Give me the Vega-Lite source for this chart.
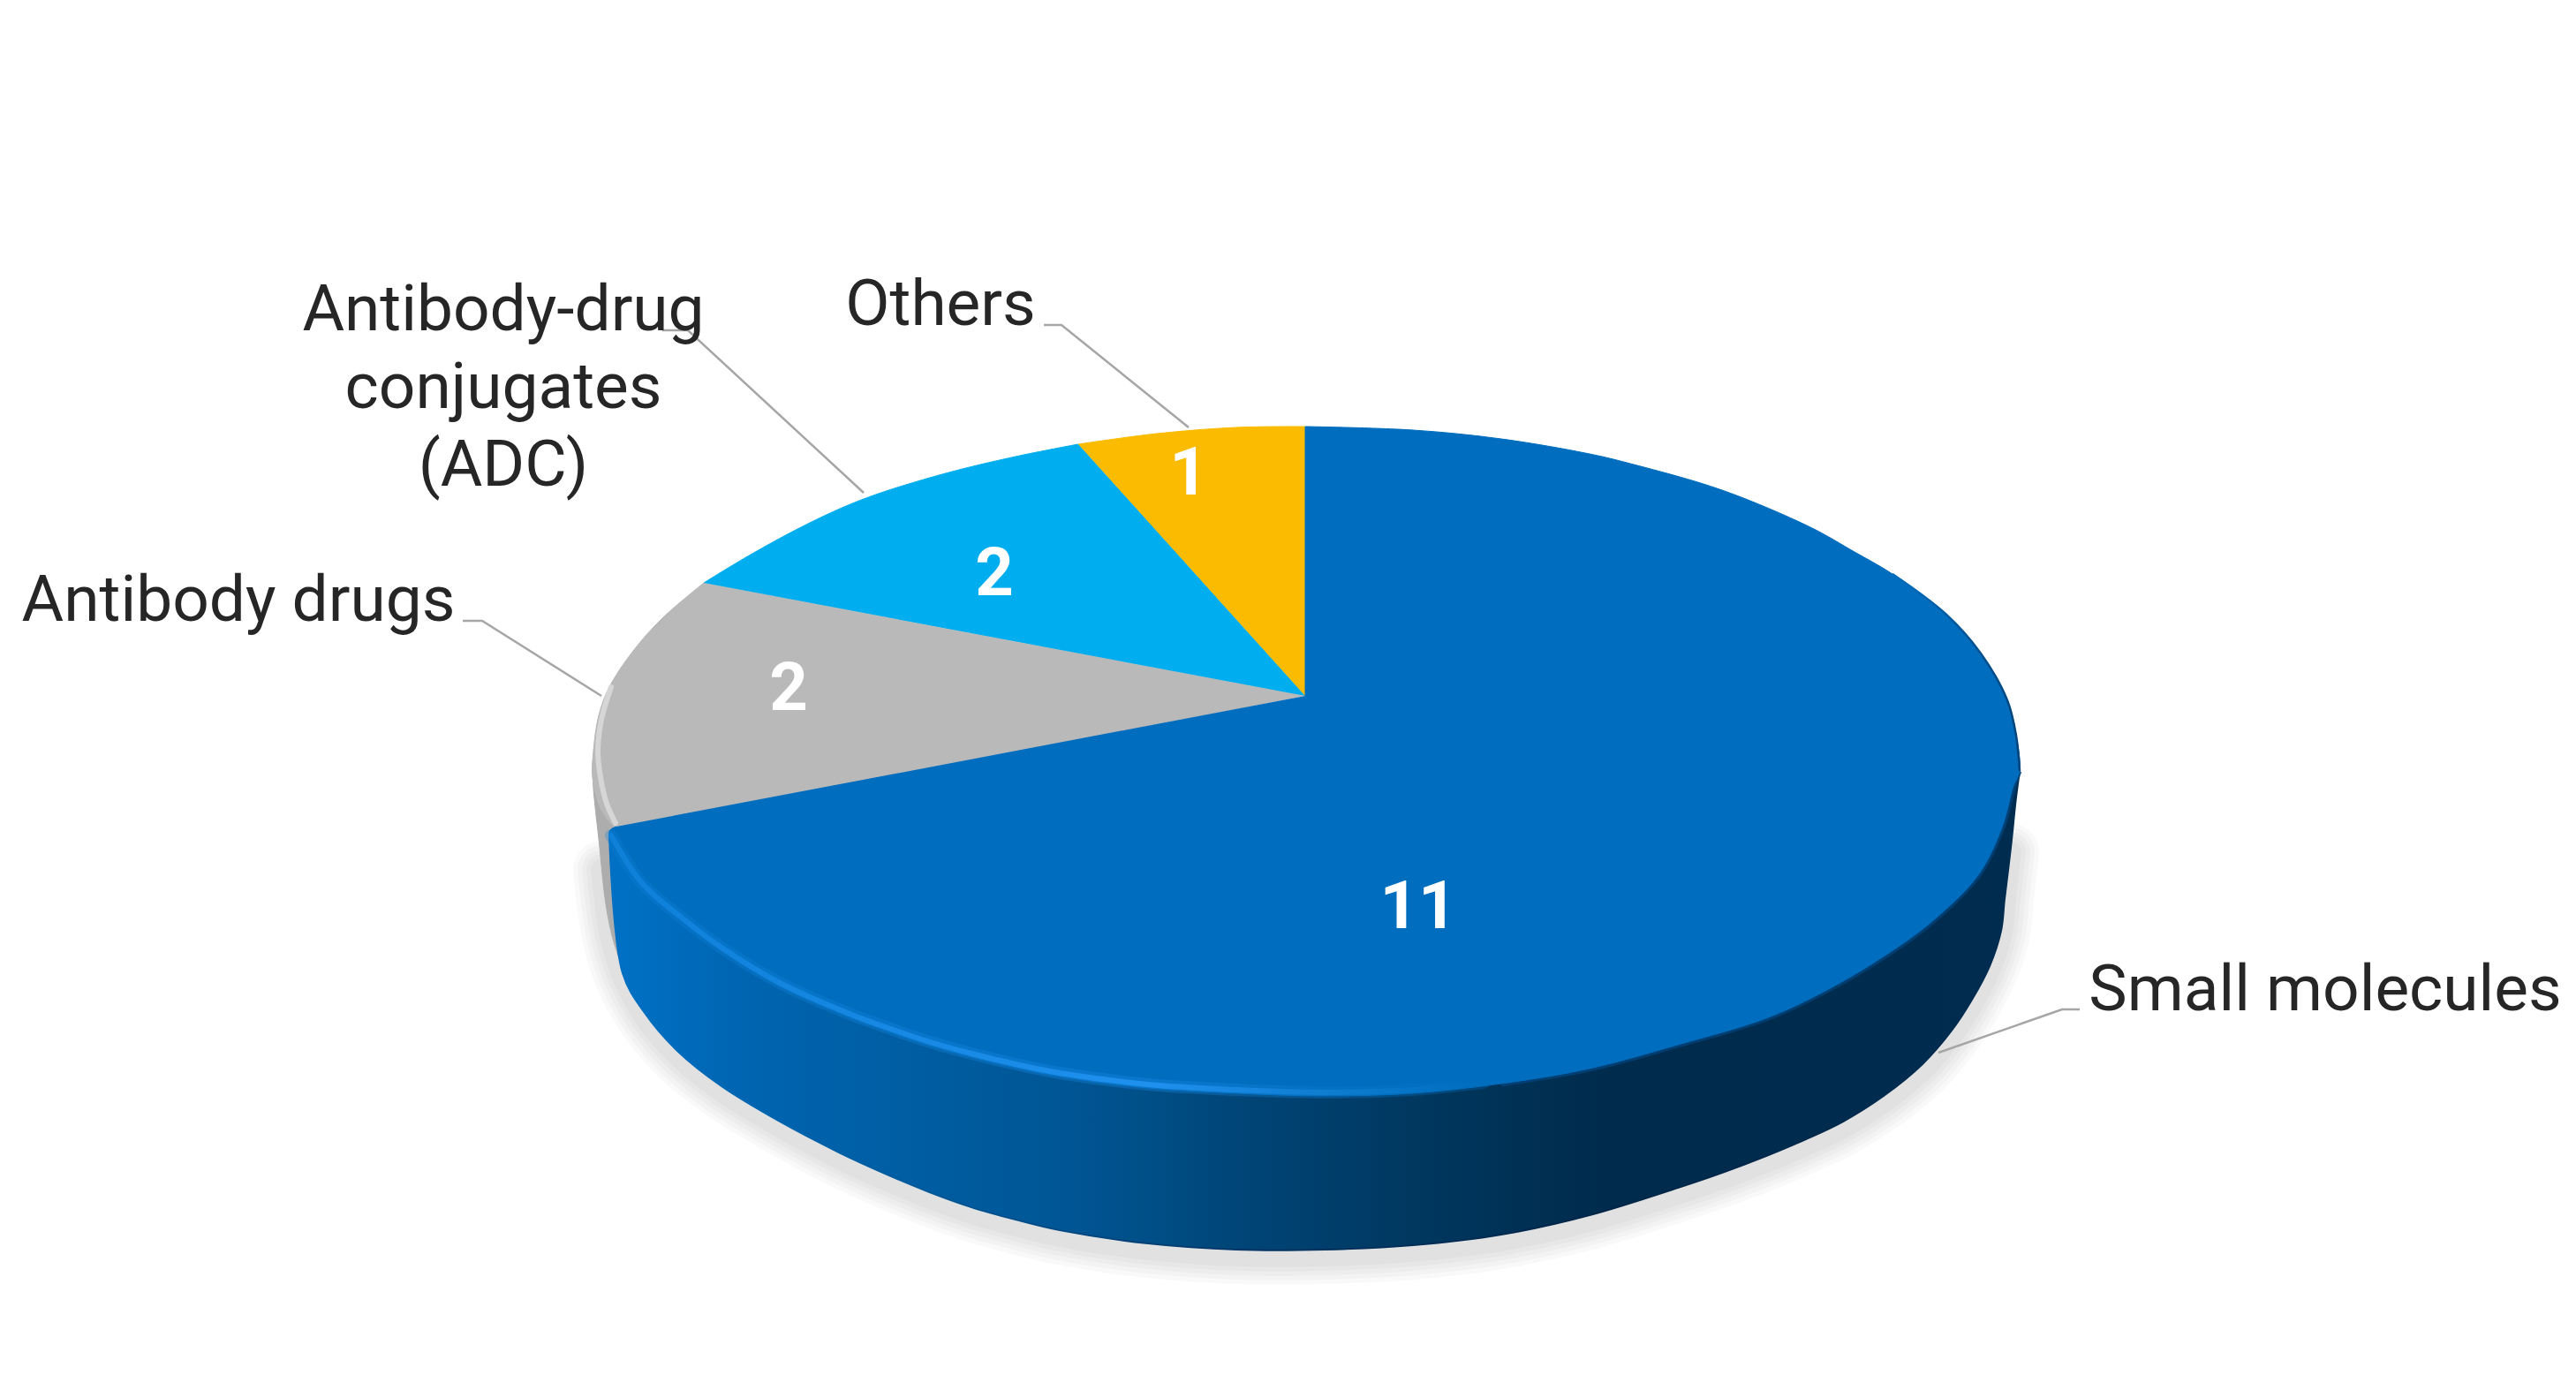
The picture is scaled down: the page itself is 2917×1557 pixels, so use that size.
{
  "$schema": "https://vega.github.io/schema/vega-lite/v6.json",
  "width": 2917,
  "height": 1557,
  "autosize": {"type": "fit", "contains": "padding"},
  "padding": 0,
  "background": "white",
  "config": {"view": {"stroke": null}},
  "datasets": {
    "slices": [
      {"slice": "Small molecules", "value": 11, "labelX": 2633, "labelY": 1144, "valueX": 1606, "valueY": 1051},
      {"slice": "Antibody drugs", "value": 2, "labelX": 270, "labelY": 703, "valueX": 893, "valueY": 804},
      {"slice": "Antibody-drug\nconjugates\n(ADC)", "value": 2, "labelX": 570, "labelY": 374, "valueX": 1126, "valueY": 674},
      {"slice": "Others", "value": 1, "labelX": 1065, "labelY": 368, "valueX": 1346, "valueY": 560}
    ],
    "outlines": [
      {"part": "shadow", "i": 1, "x": 682, "y": 985}, {"part": "shadow", "i": 2, "x": 692, "y": 1060}, {"part": "shadow", "i": 3, "x": 707, "y": 1108},
      {"part": "shadow", "i": 4, "x": 732, "y": 1153}, {"part": "shadow", "i": 5, "x": 769, "y": 1196}, {"part": "shadow", "i": 6, "x": 819, "y": 1236},
      {"part": "shadow", "i": 7, "x": 885, "y": 1276}, {"part": "shadow", "i": 8, "x": 950, "y": 1311}, {"part": "shadow", "i": 9, "x": 1000, "y": 1334},
      {"part": "shadow", "i": 10, "x": 1050, "y": 1355}, {"part": "shadow", "i": 11, "x": 1100, "y": 1373}, {"part": "shadow", "i": 12, "x": 1150, "y": 1387},
      {"part": "shadow", "i": 13, "x": 1200, "y": 1399}, {"part": "shadow", "i": 14, "x": 1300, "y": 1414},
      {"part": "shadow", "i": 15, "x": 1400, "y": 1421}, {"part": "shadow", "i": 16, "x": 1500, "y": 1421}, {"part": "shadow", "i": 17, "x": 1600, "y": 1416},
      {"part": "shadow", "i": 18, "x": 1700, "y": 1404}, {"part": "shadow", "i": 19, "x": 1800, "y": 1382}, {"part": "shadow", "i": 20, "x": 1900, "y": 1351},
      {"part": "shadow", "i": 21, "x": 1950, "y": 1334}, {"part": "shadow", "i": 22, "x": 2000, "y": 1315}, {"part": "shadow", "i": 23, "x": 2045, "y": 1296},
      {"part": "shadow", "i": 24, "x": 2087, "y": 1276}, {"part": "shadow", "i": 25, "x": 2133, "y": 1247}, {"part": "shadow", "i": 26, "x": 2177, "y": 1211},
      {"part": "shadow", "i": 27, "x": 2210, "y": 1172}, {"part": "shadow", "i": 28, "x": 2233, "y": 1136}, {"part": "shadow", "i": 29, "x": 2253, "y": 1097},
      {"part": "shadow", "i": 30, "x": 2266, "y": 1056}, {"part": "shadow", "i": 31, "x": 2270, "y": 1018}, {"part": "shadow", "i": 32, "x": 2276, "y": 965},

      {"part": "greySide", "i": 1, "x": 671, "y": 868}, {"part": "greySide", "i": 2, "x": 672, "y": 893}, {"part": "greySide", "i": 3, "x": 678, "y": 950},
      {"part": "greySide", "i": 4, "x": 687, "y": 1030}, {"part": "greySide", "i": 5, "x": 697, "y": 1073}, {"part": "greySide", "i": 6, "x": 705, "y": 1090},
      {"part": "greySide", "i": 7, "x": 720, "y": 1090}, {"part": "greySide", "i": 8, "x": 710, "y": 936},

      {"part": "blueSide", "i": 1, "x": 690, "y": 945}, {"part": "blueSide", "i": 2, "x": 690, "y": 945}, {"part": "blueSide", "i": 3, "x": 705, "y": 1102},
      {"part": "blueSide", "i": 4, "x": 730, "y": 1147}, {"part": "blueSide", "i": 5, "x": 767, "y": 1190}, {"part": "blueSide", "i": 6, "x": 817, "y": 1230},
      {"part": "blueSide", "i": 7, "x": 883, "y": 1270}, {"part": "blueSide", "i": 8, "x": 950, "y": 1305}, {"part": "blueSide", "i": 9, "x": 1000, "y": 1328},
      {"part": "blueSide", "i": 10, "x": 1050, "y": 1349}, {"part": "blueSide", "i": 11, "x": 1100, "y": 1367}, {"part": "blueSide", "i": 12, "x": 1150, "y": 1381},
      {"part": "blueSide", "i": 13, "x": 1200, "y": 1393}, {"part": "blueSide", "i": 14, "x": 1300, "y": 1408},
      {"part": "blueSide", "i": 15, "x": 1400, "y": 1415}, {"part": "blueSide", "i": 16, "x": 1500, "y": 1415}, {"part": "blueSide", "i": 17, "x": 1600, "y": 1410},
      {"part": "blueSide", "i": 18, "x": 1700, "y": 1398}, {"part": "blueSide", "i": 19, "x": 1800, "y": 1376}, {"part": "blueSide", "i": 20, "x": 1900, "y": 1345},
      {"part": "blueSide", "i": 21, "x": 1950, "y": 1328}, {"part": "blueSide", "i": 22, "x": 2000, "y": 1309}, {"part": "blueSide", "i": 23, "x": 2045, "y": 1290},
      {"part": "blueSide", "i": 24, "x": 2087, "y": 1270}, {"part": "blueSide", "i": 25, "x": 2133, "y": 1241}, {"part": "blueSide", "i": 26, "x": 2177, "y": 1205},
      {"part": "blueSide", "i": 27, "x": 2210, "y": 1167}, {"part": "blueSide", "i": 28, "x": 2233, "y": 1132}, {"part": "blueSide", "i": 29, "x": 2253, "y": 1094},
      {"part": "blueSide", "i": 30, "x": 2266, "y": 1054}, {"part": "blueSide", "i": 31, "x": 2270, "y": 1018}, {"part": "blueSide", "i": 32, "x": 2277, "y": 960},
      {"part": "blueSide", "i": 33, "x": 2283, "y": 903}, {"part": "blueSide", "i": 34, "x": 2287, "y": 873},

      {"part": "Small molecules", "i": 1, "x": 1478, "y": 788}, {"part": "Small molecules", "i": 2, "x": 1478, "y": 483}, {"part": "Small molecules", "i": 3, "x": 1478, "y": 483},
      {"part": "Small molecules", "i": 4, "x": 1600, "y": 487}, {"part": "Small molecules", "i": 5, "x": 1700, "y": 497}, {"part": "Small molecules", "i": 6, "x": 1800, "y": 514},
      {"part": "Small molecules", "i": 7, "x": 1850, "y": 526}, {"part": "Small molecules", "i": 8, "x": 1950, "y": 555}, {"part": "Small molecules", "i": 9, "x": 2050, "y": 597},
      {"part": "Small molecules", "i": 10, "x": 2100, "y": 625}, {"part": "Small molecules", "i": 11, "x": 2143, "y": 650}, {"part": "Small molecules", "i": 12, "x": 2203, "y": 695}, {"part": "Small molecules", "i": 13, "x": 2243, "y": 740},
      {"part": "Small molecules", "i": 14, "x": 2273, "y": 793}, {"part": "Small molecules", "i": 15, "x": 2283, "y": 833}, {"part": "Small molecules", "i": 16, "x": 2287, "y": 873},
      {"part": "Small molecules", "i": 17, "x": 2280, "y": 890}, {"part": "Small molecules", "i": 18, "x": 2267, "y": 937}, {"part": "Small molecules", "i": 19, "x": 2240, "y": 991},
      {"part": "Small molecules", "i": 20, "x": 2187, "y": 1044}, {"part": "Small molecules", "i": 21, "x": 2133, "y": 1083}, {"part": "Small molecules", "i": 22, "x": 2067, "y": 1122},
      {"part": "Small molecules", "i": 23, "x": 2000, "y": 1153}, {"part": "Small molecules", "i": 24, "x": 1900, "y": 1183}, {"part": "Small molecules", "i": 25, "x": 1800, "y": 1210},
      {"part": "Small molecules", "i": 26, "x": 1700, "y": 1227}, {"part": "Small molecules", "i": 27, "x": 1600, "y": 1238}, {"part": "Small molecules", "i": 28, "x": 1500, "y": 1241},
      {"part": "Small molecules", "i": 29, "x": 1400, "y": 1238}, {"part": "Small molecules", "i": 30, "x": 1300, "y": 1232}, {"part": "Small molecules", "i": 31, "x": 1200, "y": 1219},
      {"part": "Small molecules", "i": 32, "x": 1150, "y": 1209}, {"part": "Small molecules", "i": 33, "x": 1100, "y": 1197}, {"part": "Small molecules", "i": 34, "x": 1050, "y": 1183},
      {"part": "Small molecules", "i": 35, "x": 1000, "y": 1166}, {"part": "Small molecules", "i": 36, "x": 967, "y": 1154},
      {"part": "Small molecules", "i": 37, "x": 883, "y": 1117}, {"part": "Small molecules", "i": 38, "x": 817, "y": 1077}, {"part": "Small molecules", "i": 39, "x": 773, "y": 1044},
      {"part": "Small molecules", "i": 40, "x": 727, "y": 1004}, {"part": "Small molecules", "i": 41, "x": 690, "y": 948}, {"part": "Small molecules", "i": 42, "x": 691, "y": 940},
      {"part": "Small molecules", "i": 43, "x": 698, "y": 936},

      {"part": "Antibody drugs", "i": 1, "x": 1478, "y": 788}, {"part": "Antibody drugs", "i": 2, "x": 797, "y": 660}, {"part": "Antibody drugs", "i": 3, "x": 797, "y": 660},
      {"part": "Antibody drugs", "i": 4, "x": 750, "y": 700}, {"part": "Antibody drugs", "i": 5, "x": 717, "y": 737}, {"part": "Antibody drugs", "i": 6, "x": 690, "y": 778},
      {"part": "Antibody drugs", "i": 7, "x": 678, "y": 810}, {"part": "Antibody drugs", "i": 8, "x": 672, "y": 850}, {"part": "Antibody drugs", "i": 9, "x": 671, "y": 880},
      {"part": "Antibody drugs", "i": 10, "x": 680, "y": 915}, {"part": "Antibody drugs", "i": 11, "x": 698, "y": 940}, {"part": "Antibody drugs", "i": 12, "x": 698, "y": 940},

      {"part": "ADC", "i": 1, "x": 1478, "y": 788}, {"part": "ADC", "i": 2, "x": 1221, "y": 503}, {"part": "ADC", "i": 3, "x": 1221, "y": 503},
      {"part": "ADC", "i": 4, "x": 1150, "y": 517}, {"part": "ADC", "i": 5, "x": 1067, "y": 537}, {"part": "ADC", "i": 6, "x": 978, "y": 565},
      {"part": "ADC", "i": 7, "x": 917, "y": 592}, {"part": "ADC", "i": 8, "x": 850, "y": 628}, {"part": "ADC", "i": 9, "x": 797, "y": 660},

      {"part": "Others", "i": 1, "x": 1478, "y": 788}, {"part": "Others", "i": 2, "x": 1478, "y": 483}, {"part": "Others", "i": 3, "x": 1478, "y": 483},
      {"part": "Others", "i": 4, "x": 1400, "y": 484}, {"part": "Others", "i": 5, "x": 1310, "y": 491}, {"part": "Others", "i": 6, "x": 1221, "y": 503},

      {"part": "rim", "i": 1, "x": 692, "y": 946}, {"part": "rim", "i": 2, "x": 727, "y": 1000}, {"part": "rim", "i": 3, "x": 773, "y": 1040},
      {"part": "rim", "i": 4, "x": 817, "y": 1073}, {"part": "rim", "i": 5, "x": 883, "y": 1113}, {"part": "rim", "i": 6, "x": 967, "y": 1150},
      {"part": "rim", "i": 7, "x": 1000, "y": 1162}, {"part": "rim", "i": 8, "x": 1050, "y": 1179}, {"part": "rim", "i": 9, "x": 1100, "y": 1193},
      {"part": "rim", "i": 10, "x": 1150, "y": 1205}, {"part": "rim", "i": 11, "x": 1200, "y": 1215},
      {"part": "rim", "i": 12, "x": 1300, "y": 1228}, {"part": "rim", "i": 13, "x": 1400, "y": 1234}, {"part": "rim", "i": 14, "x": 1500, "y": 1237},
      {"part": "rim", "i": 15, "x": 1600, "y": 1234}, {"part": "rim", "i": 16, "x": 1680, "y": 1226},

      {"part": "edge", "i": 1, "x": 2143, "y": 650}, {"part": "edge", "i": 2, "x": 2203, "y": 695}, {"part": "edge", "i": 3, "x": 2243, "y": 740},
      {"part": "edge", "i": 4, "x": 2273, "y": 793}, {"part": "edge", "i": 5, "x": 2283, "y": 833}, {"part": "edge", "i": 6, "x": 2287, "y": 873},

      {"part": "shade", "i": 1, "x": 2286, "y": 873}, {"part": "shade", "i": 2, "x": 2280, "y": 890}, {"part": "shade", "i": 3, "x": 2267, "y": 937},
      {"part": "shade", "i": 4, "x": 2240, "y": 991}, {"part": "shade", "i": 5, "x": 2187, "y": 1044}, {"part": "shade", "i": 6, "x": 2133, "y": 1083},
      {"part": "shade", "i": 7, "x": 2067, "y": 1122}, {"part": "shade", "i": 8, "x": 2000, "y": 1153}, {"part": "shade", "i": 9, "x": 1900, "y": 1183},
      {"part": "shade", "i": 10, "x": 1800, "y": 1210}, {"part": "shade", "i": 11, "x": 1700, "y": 1227},

      {"part": "greyRim", "i": 1, "x": 692, "y": 778}, {"part": "greyRim", "i": 2, "x": 681, "y": 815}, {"part": "greyRim", "i": 3, "x": 677, "y": 850},
      {"part": "greyRim", "i": 4, "x": 680, "y": 880}, {"part": "greyRim", "i": 5, "x": 687, "y": 910}, {"part": "greyRim", "i": 6, "x": 697, "y": 932},

      {"part": "leader1", "i": 1, "x": 1182, "y": 368}, {"part": "leader1", "i": 2, "x": 1202, "y": 368}, {"part": "leader1", "i": 3, "x": 1346, "y": 484},
      {"part": "leader2", "i": 1, "x": 750, "y": 374}, {"part": "leader2", "i": 2, "x": 779, "y": 374}, {"part": "leader2", "i": 3, "x": 978, "y": 558},
      {"part": "leader3", "i": 1, "x": 524, "y": 703}, {"part": "leader3", "i": 2, "x": 546, "y": 703}, {"part": "leader3", "i": 3, "x": 681, "y": 788},
      {"part": "leader4", "i": 1, "x": 2355, "y": 1143}, {"part": "leader4", "i": 2, "x": 2335, "y": 1143}, {"part": "leader4", "i": 3, "x": 2195, "y": 1192}
    ]
  },
  "data": {"name": "outlines"},
  "encoding": {
    "x": {"field": "x", "type": "quantitative", "axis": null, "scale": {"domain": [0, 2917], "nice": false, "zero": false}},
    "y": {"field": "y", "type": "quantitative", "axis": null, "scale": {"domain": [0, 1557], "nice": false, "zero": false, "reverse": true}},
    "order": {"field": "i", "type": "quantitative"}
  },
  "layer": [
    {"transform": [{"filter": "datum.part == 'shadow'"}], "mark": {"type": "line", "interpolate": "catmull-rom", "stroke": "#000000", "strokeWidth": 66, "opacity": 0.022, "strokeCap": "round", "strokeJoin": "round"}},
    {"transform": [{"filter": "datum.part == 'shadow'"}], "mark": {"type": "line", "interpolate": "catmull-rom", "stroke": "#000000", "strokeWidth": 56, "opacity": 0.022, "strokeCap": "round", "strokeJoin": "round"}},
    {"transform": [{"filter": "datum.part == 'shadow'"}], "mark": {"type": "line", "interpolate": "catmull-rom", "stroke": "#000000", "strokeWidth": 46, "opacity": 0.022, "strokeCap": "round", "strokeJoin": "round"}},
    {"transform": [{"filter": "datum.part == 'shadow'"}], "mark": {"type": "line", "interpolate": "catmull-rom", "stroke": "#000000", "strokeWidth": 36, "opacity": 0.022, "strokeCap": "round", "strokeJoin": "round"}},
    {"transform": [{"filter": "datum.part == 'shadow'"}], "mark": {"type": "line", "interpolate": "catmull-rom", "stroke": "#000000", "strokeWidth": 26, "opacity": 0.022, "strokeCap": "round", "strokeJoin": "round"}},
    {"transform": [{"filter": "datum.part == 'greySide'"}], "mark": {"type": "line", "interpolate": "catmull-rom", "fill": "#adadad", "stroke": "#adadad", "strokeWidth": 1}},
    {"transform": [{"filter": "datum.part == 'blueSide'"}], "mark": {"type": "line", "interpolate": "catmull-rom", "strokeWidth": 2, "stroke": {
      "gradient": "linear", "x1": 0, "y1": 0, "x2": 1, "y2": 0,
      "stops": [
        {"offset": 0, "color": "#0070c4"},
        {"offset": 0.2, "color": "#005c9f"},
        {"offset": 0.45, "color": "#003566"},
        {"offset": 0.7, "color": "#002547"},
        {"offset": 1, "color": "#002c50"}
      ]
    }, "fill": {
      "gradient": "linear", "x1": 0, "y1": 0, "x2": 1, "y2": 0,
      "stops": [
        {"offset": 0.01, "color": "#0070c4"},
        {"offset": 0.1, "color": "#0064b0"},
        {"offset": 0.19, "color": "#005fa5"},
        {"offset": 0.32, "color": "#005695"},
        {"offset": 0.38, "color": "#004f88"},
        {"offset": 0.44, "color": "#004678"},
        {"offset": 0.51, "color": "#003e6c"},
        {"offset": 0.57, "color": "#00385f"},
        {"offset": 0.63, "color": "#003257"},
        {"offset": 0.71, "color": "#002b4c"},
        {"offset": 1, "color": "#002c50"}
      ]
    }}},
    {"transform": [{"filter": "datum.part == 'Antibody drugs'"}], "mark": {"type": "line", "interpolate": "catmull-rom", "fill": "#b9b9b9", "stroke": "#b9b9b9", "strokeWidth": 1}},
    {"transform": [{"filter": "datum.part == 'greyRim'"}], "mark": {"type": "line", "interpolate": "catmull-rom", "stroke": "#d6d6d6", "strokeWidth": 6, "strokeCap": "round"}},
    {"transform": [{"filter": "datum.part == 'ADC'"}], "mark": {"type": "line", "interpolate": "catmull-rom", "fill": "#00aeef", "stroke": "#00aeef", "strokeWidth": 1}},
    {"transform": [{"filter": "datum.part == 'Others'"}], "mark": {"type": "line", "interpolate": "catmull-rom", "fill": "#fbbb00", "stroke": "#fbbb00", "strokeWidth": 1}},
    {"transform": [{"filter": "datum.part == 'shade'"}], "mark": {"type": "line", "interpolate": "catmull-rom", "stroke": "#00437a", "strokeWidth": 7, "opacity": 0.8}},
    {"transform": [{"filter": "datum.part == 'Small molecules'"}], "mark": {"type": "line", "interpolate": "catmull-rom", "fill": "#006dbe", "stroke": "#006dbe", "strokeWidth": 1}},
    {"transform": [{"filter": "datum.part == 'edge'"}], "mark": {"type": "line", "interpolate": "catmull-rom", "strokeWidth": 2.5, "stroke": {
      "gradient": "linear", "x1": 0, "y1": 0, "x2": 1, "y2": 0,
      "stops": [
        {"offset": 0, "color": "#006dbe"},
        {"offset": 1, "color": "#00437a"}
      ]
    }}},
    {"transform": [{"filter": "datum.part == 'rim'"}], "mark": {"type": "line", "interpolate": "catmull-rom", "strokeWidth": 14, "opacity": 0.3, "strokeCap": "round", "stroke": {
      "gradient": "linear", "x1": 0, "y1": 0, "x2": 1, "y2": 0,
      "stops": [
        {"offset": 0, "color": "#0f80d8"},
        {"offset": 0.45, "color": "#1a8ce8"},
        {"offset": 0.62, "color": "#1f90ee"},
        {"offset": 0.83, "color": "#0d7cd0"},
        {"offset": 1, "color": "#006dbe"}
      ]
    }}},
    {"transform": [{"filter": "datum.part == 'rim'"}], "mark": {"type": "line", "interpolate": "catmull-rom", "strokeWidth": 6, "strokeCap": "round", "stroke": {
      "gradient": "linear", "x1": 0, "y1": 0, "x2": 1, "y2": 0,
      "stops": [
        {"offset": 0, "color": "#0f80d8"},
        {"offset": 0.45, "color": "#1a8ce8"},
        {"offset": 0.62, "color": "#1f90ee"},
        {"offset": 0.83, "color": "#0d7cd0"},
        {"offset": 1, "color": "#006dbe"}
      ]
    }}},
    {"transform": [{"filter": "datum.part == 'leader1'"}], "mark": {"type": "line", "stroke": "#a6a6a6", "strokeWidth": 2.5}},
    {"transform": [{"filter": "datum.part == 'leader2'"}], "mark": {"type": "line", "stroke": "#a6a6a6", "strokeWidth": 2.5}},
    {"transform": [{"filter": "datum.part == 'leader3'"}], "mark": {"type": "line", "stroke": "#a6a6a6", "strokeWidth": 2.5}},
    {"transform": [{"filter": "datum.part == 'leader4'"}], "mark": {"type": "line", "stroke": "#a6a6a6", "strokeWidth": 2.5}},
    {
      "data": {"name": "slices"},
      "mark": {"type": "text", "font": "Roboto", "fontSize": 73, "fill": "#262626", "align": "center", "baseline": "alphabetic", "lineBreak": "\n", "lineHeight": 88},
      "encoding": {
        "x": {"field": "labelX", "type": "quantitative", "axis": null, "scale": {"domain": [0, 2917], "nice": false, "zero": false}},
        "y": {"field": "labelY", "type": "quantitative", "axis": null, "scale": {"domain": [0, 1557], "nice": false, "zero": false, "reverse": true}},
        "text": {"field": "slice", "type": "nominal"}
      }
    },
    {
      "data": {"name": "slices"},
      "mark": {"type": "text", "font": "Roboto", "fontSize": 76, "fontWeight": "bold", "fill": "white", "align": "center", "baseline": "alphabetic"},
      "encoding": {
        "x": {"field": "valueX", "type": "quantitative", "axis": null, "scale": {"domain": [0, 2917], "nice": false, "zero": false}},
        "y": {"field": "valueY", "type": "quantitative", "axis": null, "scale": {"domain": [0, 1557], "nice": false, "zero": false, "reverse": true}},
        "text": {"field": "value", "type": "quantitative"}
      }
    }
  ]
}
